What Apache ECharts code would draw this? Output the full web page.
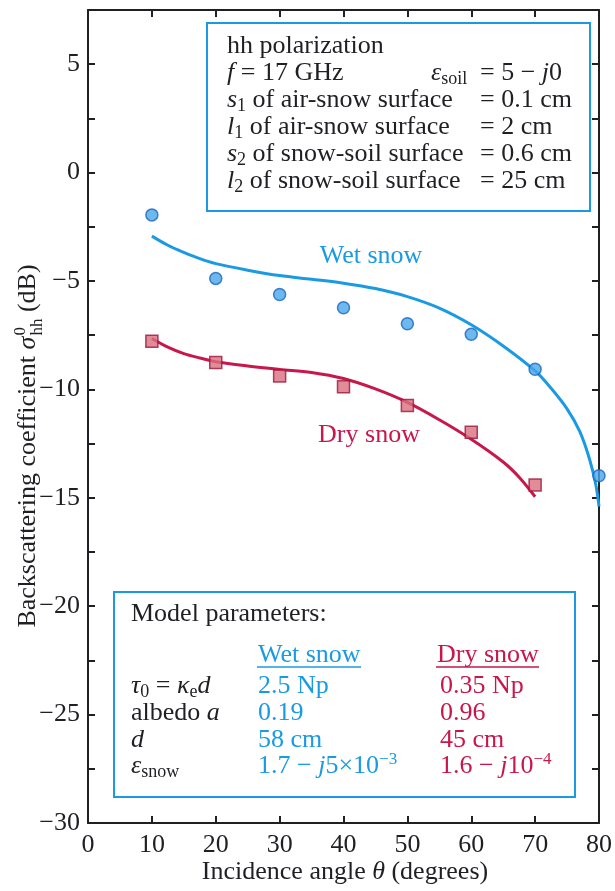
<!DOCTYPE html>
<html>
<head>
<meta charset="utf-8">
<script src="https://cdn.jsdelivr.net/npm/echarts@6/dist/echarts.min.js"></script>
<style>
html,body{margin:0;padding:0;background:#fff;}
#chart{width:615px;height:891px;}
</style>
</head>
<body>
<div id="chart"></div>
<script>
// ---------- data ----------
const angleTicks = [0, 10, 20, 30, 40, 50, 60, 70, 80];
const measuredAngles = [10, 20, 30, 40, 50, 60, 70, 80];
const wetMeasured = [-1.95, -4.88, -5.62, -6.23, -6.97, -7.46, -9.07, -13.98];
const dryMeasuredAngles = [10, 20, 30, 40, 50, 60, 70];
const dryMeasured = [-7.78, -8.76, -9.38, -9.88, -10.74, -11.98, -14.41];

const wetModelAngles = [10, 12.5, 15, 17.5, 20, 25, 30, 35, 40, 45, 50, 55, 60, 65, 70, 72.5, 75, 77, 78.5, 79.5, 80];
const wetModel = [-2.93, -3.35, -3.68, -3.97, -4.2, -4.5, -4.75, -4.92, -5.1, -5.35, -5.72, -6.25, -7.02, -8.0, -9.15, -9.95, -10.9, -11.95, -13.2, -14.4, -15.4];
const dryModelAngles = [10, 12.5, 15, 17.5, 20, 25, 30, 35, 40, 45, 50, 55, 60, 65, 67.5, 70];
const dryModel = [-7.65, -8.05, -8.35, -8.55, -8.72, -8.92, -9.08, -9.22, -9.5, -9.98, -10.6, -11.4, -12.3, -13.35, -14.05, -14.95];

const yMin = -30, yMax = 7.5;

// ---------- style ----------
const FONT = '"Liberation Serif","DejaVu Serif","Times New Roman",serif';
const FS = 26;
const BLUE = '#1b9ae4';
const RED = '#c8174b';
const INK = '#1f1f24';

function pairs(xs, ys) { return xs.map((x, i) => [x, ys[i]]); }
function tw(text, size, italic) {
  const c = document.createElement('canvas').getContext('2d');
  c.font = (italic ? 'italic ' : '') + size + 'px ' + FONT;
  return c.measureText(text).width;
}
const rich = {
  it: { fontStyle: 'italic', fontFamily: FONT, fontSize: FS, lineHeight: 30 },
  sub: { fontSize: 18, fontFamily: FONT, verticalAlign: 'bottom', lineHeight: 15 },
  sup: { fontSize: 17, fontFamily: FONT, verticalAlign: 'top', lineHeight: 14 }
};
function T(x, y, text, fill, align) {
  return {
    type: 'text', x: x, y: y, z: 20,
    style: {
      text: text, fill: fill || INK, fontFamily: FONT, fontSize: FS, lineHeight: 30,
      align: align || 'left', verticalAlign: 'middle', rich: rich
    }
  };
}

// y-axis title (rotated group with stacked sup/sub)
const yA = 'Backscattering coefficient ';
const wA = tw(yA, FS, false), wS = tw('σ', FS, true);
const wHH = Math.max(tw('hh', 17, false), tw('0', 17, false));
const wB = tw(' (dB)', FS, false);
const WT = wA + wS + 1 + wHH + wB;
const x0 = -WT / 2;
const yTitle = {
  type: 'group', x: 28, y: 446, rotation: Math.PI / 2, z: 20,
  children: [
    { type: 'text', x: x0, y: 0, style: { text: yA, fill: INK, fontFamily: FONT, fontSize: FS, align: 'left', verticalAlign: 'middle' } },
    { type: 'text', x: x0 + wA, y: 0, style: { text: 'σ', fill: INK, fontFamily: FONT, fontSize: FS, fontStyle: 'italic', align: 'left', verticalAlign: 'middle' } },
    { type: 'text', x: x0 + wA + wS + 1, y: -7, style: { text: '0', fill: INK, fontFamily: FONT, fontSize: 17, align: 'left', verticalAlign: 'middle' } },
    { type: 'text', x: x0 + wA + wS + 1, y: 10, style: { text: 'hh', fill: INK, fontFamily: FONT, fontSize: 17, align: 'left', verticalAlign: 'middle' } },
    { type: 'text', x: x0 + wA + wS + 1 + wHH, y: 0, style: { text: ' (dB)', fill: INK, fontFamily: FONT, fontSize: FS, align: 'left', verticalAlign: 'middle' } }
  ]
};

const graphics = [
  // top info box
  { type: 'rect', z: 15, shape: { x: 207, y: 23, width: 383, height: 188 }, style: { fill: '#fff', stroke: BLUE, lineWidth: 2 } },
  T(227, 46, 'hh polarization'),
  T(227, 73, '{it|f} = 17 GHz'),
  T(431, 73, '{it|ε}{sub|soil}'),
  T(480, 73, '= 5 − {it|j}0'),
  T(227, 100, '{it|s}{sub|1} of air-snow surface'),
  T(480, 100, '= 0.1 cm'),
  T(227, 127, '{it|l}{sub|1} of air-snow surface'),
  T(480, 127, '= 2 cm'),
  T(227, 154, '{it|s}{sub|2} of snow-soil surface'),
  T(480, 154, '= 0.6 cm'),
  T(227, 181, '{it|l}{sub|2} of snow-soil surface'),
  T(480, 181, '= 25 cm'),
  // model parameters box
  { type: 'rect', z: 15, shape: { x: 114, y: 592, width: 461, height: 205 }, style: { fill: '#fff', stroke: BLUE, lineWidth: 2 } },
  T(131, 614, 'Model parameters:'),
  T(258, 655, 'Wet snow', BLUE),
  T(437, 655, 'Dry snow', RED),
  { type: 'line', z: 20, shape: { x1: 257, y1: 667, x2: 361, y2: 667 }, style: { stroke: BLUE, lineWidth: 1.5 } },
  { type: 'line', z: 20, shape: { x1: 436, y1: 667, x2: 539, y2: 667 }, style: { stroke: RED, lineWidth: 1.5 } },
  T(131, 686, '{it|τ}{sub|0} = {it|κ}{sub|e}{it|d}'),
  T(258, 686, '2.5 Np', BLUE),
  T(440, 686, '0.35 Np', RED),
  T(131, 713, 'albedo {it|a}'),
  T(258, 713, '0.19', BLUE),
  T(440, 713, '0.96', RED),
  T(131, 740, '{it|d}'),
  T(258, 740, '58 cm', BLUE),
  T(440, 740, '45 cm', RED),
  T(131, 766, '{it|ε}{sub|snow}'),
  T(258, 766, '1.7 − {it|j}5×10{sup|−3}', BLUE),
  T(440, 766, '1.6 − {it|j}10{sup|−4}', RED),
  // curve labels
  { type: 'text', x: 371, y: 256, z: 20, style: { text: 'Wet snow', fill: BLUE, fontFamily: FONT, fontSize: FS, align: 'center', verticalAlign: 'middle' } },
  { type: 'text', x: 369, y: 435, z: 20, style: { text: 'Dry snow', fill: RED, fontFamily: FONT, fontSize: FS, align: 'center', verticalAlign: 'middle' } },
  // x title
  { type: 'text', x: 345, y: 872, z: 20, style: { text: 'Incidence angle {it|θ} (degrees)', fill: INK, fontFamily: FONT, fontSize: FS, lineHeight: 30, align: 'center', verticalAlign: 'middle', rich: rich } },
  yTitle
];

const axisCommon = {
  type: 'value',
  axisLine: { show: true, onZero: false, lineStyle: { color: INK, width: 2 } },
  axisTick: { show: true, inside: true, length: 7, lineStyle: { color: INK, width: 2 } },
  splitLine: { show: false }
};
const minus = v => String(v).replace('-', '−');

const option = {
  animation: false,
  backgroundColor: '#ffffff',
  grid: { left: 88, right: 13, top: 10, bottom: 68, containLabel: false },
  xAxis: [
    Object.assign({}, axisCommon, {
      position: 'bottom', min: angleTicks[0], max: angleTicks[angleTicks.length - 1], interval: 10,
      axisLabel: { color: INK, fontFamily: FONT, fontSize: FS, margin: 9, formatter: v => String(v) }
    }),
    Object.assign({}, axisCommon, {
      position: 'top', min: angleTicks[0], max: angleTicks[angleTicks.length - 1], interval: 10,
      axisLabel: { show: false }
    })
  ],
  yAxis: [
    Object.assign({}, axisCommon, {
      position: 'left', min: yMin, max: yMax, interval: 2.5,
      axisLabel: { color: INK, fontFamily: FONT, fontSize: FS, margin: 8,
        formatter: v => (Math.abs(v % 5) < 1e-9 ? minus(v) : '') }
    }),
    Object.assign({}, axisCommon, {
      position: 'right', min: yMin, max: yMax, interval: 2.5,
      axisLabel: { show: false }
    })
  ],
  series: [
    { name: 'Wet model', type: 'line', data: pairs(wetModelAngles, wetModel), smooth: 0.35, showSymbol: false,
      lineStyle: { color: BLUE, width: 3 }, z: 3 },
    { name: 'Dry model', type: 'line', data: pairs(dryModelAngles, dryModel), smooth: 0.35, showSymbol: false,
      lineStyle: { color: RED, width: 3 }, z: 3 },
    { name: 'Wet measured', type: 'scatter', data: pairs(measuredAngles, wetMeasured), symbol: 'circle', symbolSize: 12,
      itemStyle: { color: '#4aa6ea', borderColor: '#1766c2', borderWidth: 1.5 }, z: 5 },
    { name: 'Dry measured', type: 'scatter', data: pairs(dryMeasuredAngles, dryMeasured), symbol: 'rect', symbolSize: 12,
      itemStyle: { color: '#d9707f', borderColor: '#9c1538', borderWidth: 1.5 }, z: 5 }
  ],
  graphic: graphics
};

const chart = echarts.init(document.getElementById('chart'), null, { renderer: 'canvas' });
chart.setOption(option);
</script>
</body>
</html>
